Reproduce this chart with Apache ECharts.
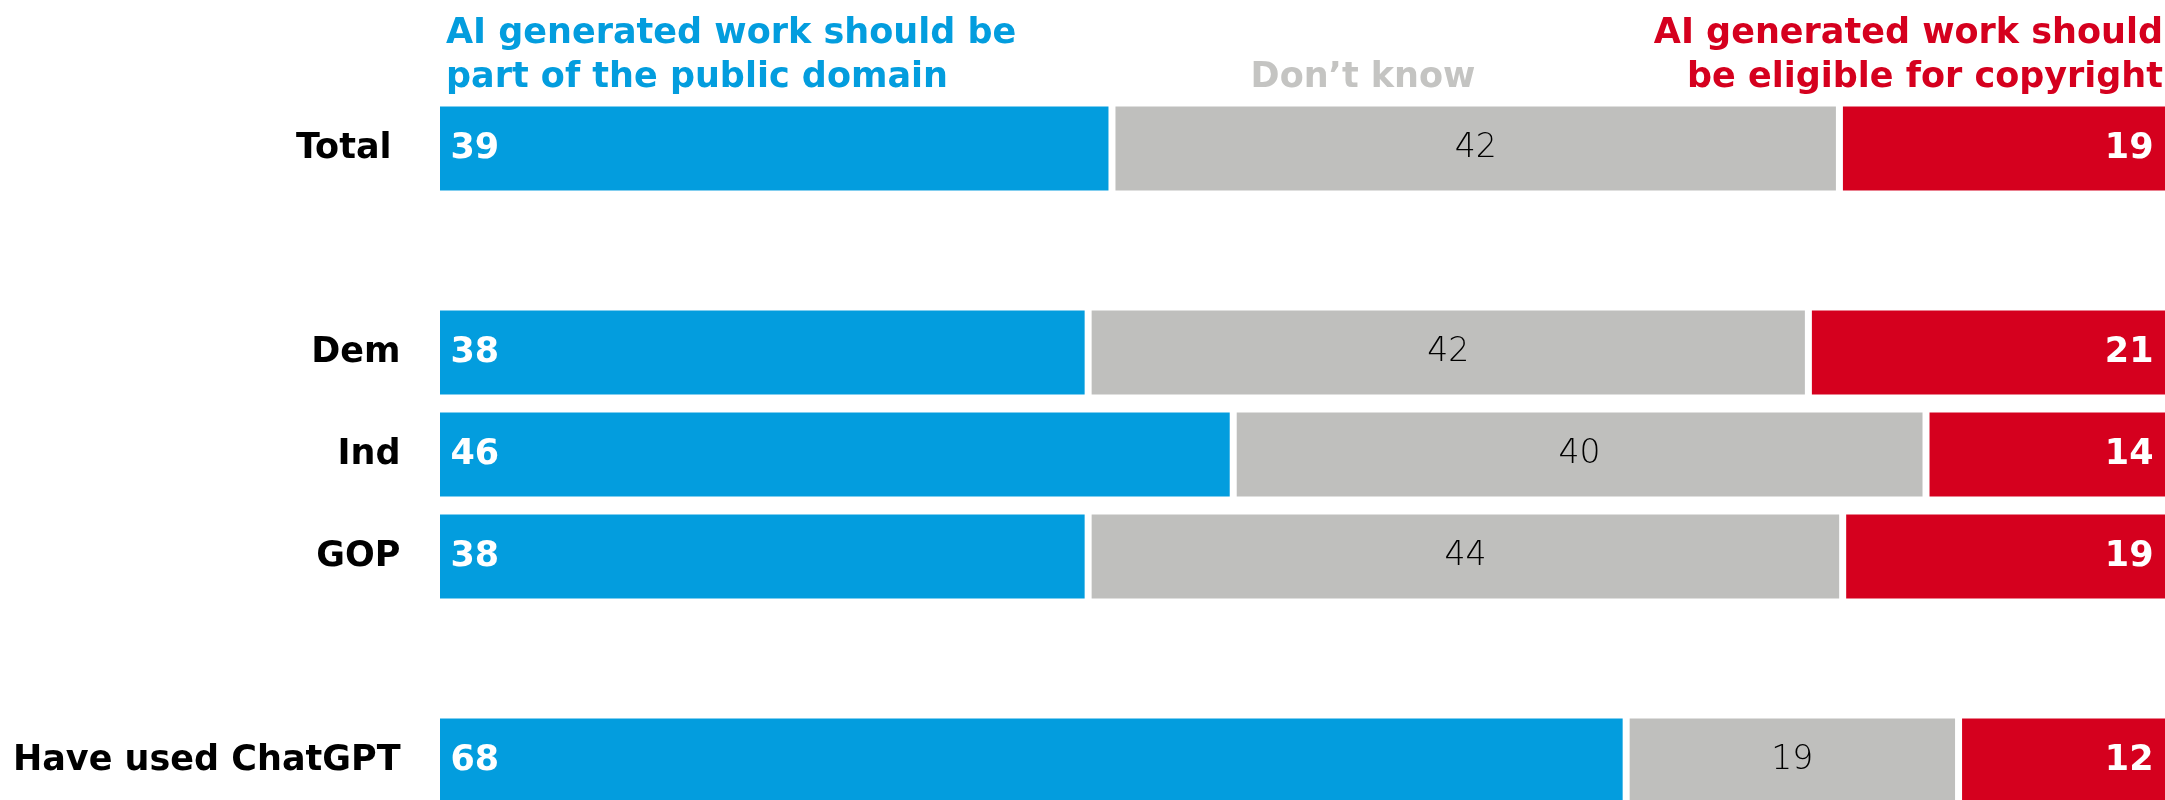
<!DOCTYPE html>
<html><head><meta charset="utf-8">
<script src="https://cdn.jsdelivr.net/npm/echarts@6/dist/echarts.min.js"></script>
<style>html,body{margin:0;padding:0;background:#fff}#c{width:2165px;height:800px}</style>
</head><body><div id="c"></div>
<script>
// ---- data ----
const rows = ['Total', 'Dem', 'Ind', 'GOP', 'Have used ChatGPT'];
const publicDomain = [39, 38, 46, 38, 68];
const dontKnow = [42, 42, 40, 44, 19];
const copyright = [19, 21, 14, 19, 12];
const headerPublic = 'AI generated work should be\npart of the public domain';
const headerDontKnow = 'Don\u2019t know';
const headerCopyright = ['AI generated work should', 'be eligible for copyright'];
// category slots (null = blank spacer row between groups)
const slots = [0, null, 1, 2, 3, null, 4];

// ---- styles ----
const BLUE = '#039DDE', GRAY = '#BFBFBD', RED = '#D5001E', GRAY_TXT = '#C4C4C2';
const FONT = '"DejaVu Sans", sans-serif';

const totals = rows.map((_, i) => publicDomain[i] + dontKnow[i] + copyright[i]);
function build(arr) {
  return slots.map(r => r === null ? '-' : { value: arr[r] / totals[r] * 100, raw: arr[r] });
}
const yData = slots.map(r => r === null ? '' : rows[r]);

const common = {
  type: 'bar', stack: 'all', barWidth: 91, silent: true,
  itemStyle: { borderColor: '#fff', borderWidth: 3.5 }
};

const chart = echarts.init(document.getElementById('c'), null, { renderer: 'canvas' });
chart.setOption({
  animation: false,
  backgroundColor: '#fff',
  title: [
    { text: headerPublic, left: 446, top: 12, padding: 0,
      textStyle: { color: BLUE, fontFamily: FONT, fontWeight: 'bold', fontSize: 35, lineHeight: 44 } },
    { text: headerDontKnow, left: 1363, top: 56, padding: 0, textAlign: 'center',
      textStyle: { color: GRAY_TXT, fontFamily: FONT, fontWeight: 'bold', fontSize: 35, lineHeight: 44 } }
  ],
  graphic: headerCopyright.map((line, i) => ({
    type: 'text', right: 2, top: 12 + i * 44, silent: true,
    style: { text: line, fill: RED, fontFamily: FONT, fontWeight: 'bold', fontSize: 35, lineHeight: 44 }
  })),
  grid: { left: 436.5, right: -3.5, top: 97.5, height: 714, containLabel: false, outerBoundsMode: 'none' },
  xAxis: { type: 'value', min: 0, max: 100, show: false },
  yAxis: {
    type: 'category', inverse: true, data: yData,
    axisLine: { show: false }, axisTick: { show: false }, splitLine: { show: false },
    axisLabel: {
      margin: 36, color: '#000', fontFamily: FONT, fontWeight: 'bold', fontSize: 35,
      formatter: v => v === rows[0] ? '{t|' + v + '}' : v,
      rich: { t: { color: '#000', fontFamily: FONT, fontWeight: 'bold', fontSize: 35, padding: [0, 9, 0, 0] } }
    }
  },
  series: [
    Object.assign({}, common, {
      name: 'public', data: build(publicDomain), itemStyle: Object.assign({}, common.itemStyle, { color: BLUE }),
      label: { show: true, position: 'insideLeft', distance: 14, color: '#fff', fontFamily: FONT, fontWeight: 'bold', fontSize: 35,
        formatter: p => p.data.raw }
    }),
    Object.assign({}, common, {
      name: 'dontknow', data: build(dontKnow), itemStyle: Object.assign({}, common.itemStyle, { color: GRAY }),
      label: { show: true, position: 'inside', color: '#000', fontFamily: FONT, fontWeight: 200, fontSize: 33,
        formatter: p => p.data.raw }
    }),
    Object.assign({}, common, {
      name: 'copyright', data: build(copyright), itemStyle: Object.assign({}, common.itemStyle, { color: RED }),
      label: { show: true, position: 'insideRight', distance: 15, color: '#fff', fontFamily: FONT, fontWeight: 'bold', fontSize: 35,
        formatter: p => p.data.raw }
    })
  ]
});
</script>
</body></html>
